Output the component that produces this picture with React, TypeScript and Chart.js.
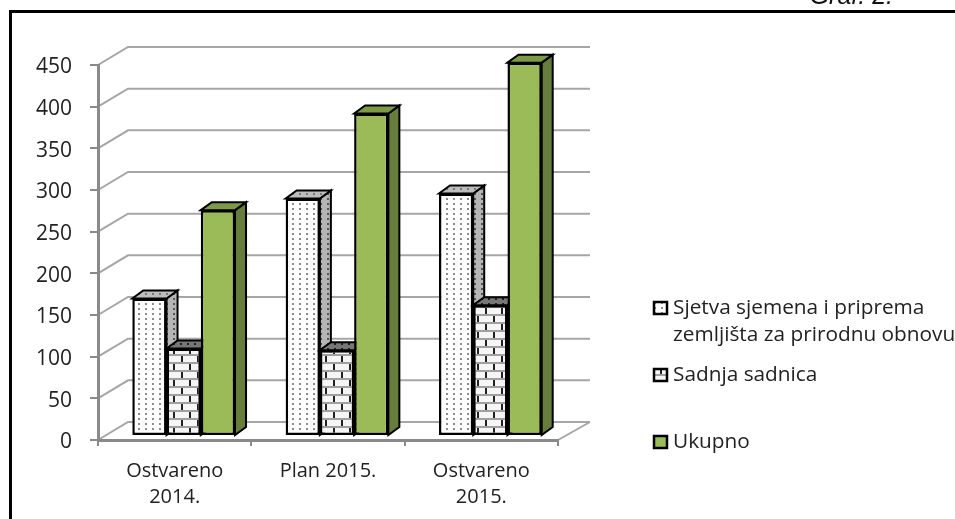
import { useEffect, useRef } from "react";
import { Chart, registerables } from "chart.js";

Chart.register(...registerables);

const categories = [["Ostvareno", "2014."], ["Plan 2015."], ["Ostvareno", "2015."]];
const sjetva = [165, 285, 291];
const sadnja = [105, 103, 157];
const ukupno = [271, 387, 448];
const legendLines = [["Sjetva sjemena i priprema", "zemljišta za prirodnu obnovu"], ["Sadnja sadnica"], ["Ukupno"]];
const note = "Graf. 2.";
const FONT = '"Open Sans"';

function dotPattern(dot: string, bg: string) {
  const c = document.createElement("canvas");
  c.width = 7; c.height = 5;
  const g = c.getContext("2d")!;
  g.fillStyle = bg; g.fillRect(0, 0, 7, 5);
  g.fillStyle = dot; g.fillRect(3, 2, 2, 2);
  return g.createPattern(c, "repeat")!;
}
function brickPattern(line: string, tick: string, bg: string) {
  const c = document.createElement("canvas");
  c.width = 16; c.height = 16;
  const g = c.getContext("2d")!;
  g.fillStyle = bg; g.fillRect(0, 0, 16, 16);
  g.fillStyle = line;
  g.fillRect(0, 6, 16, 2); g.fillRect(0, 14, 16, 2);
  g.fillStyle = tick;
  g.fillRect(4, 0, 2, 6); g.fillRect(12, 8, 2, 6);
  return g.createPattern(c, "repeat")!;
}

const DX = 11, DY = 8, WALL_X = 30, WALL_Y = 18;

const scene = {
  id: "scene",
  beforeDraw(chart: any) {
    const { ctx, scales: { x, y } } = chart;
    y.getLabelItems().forEach((it: any) => {
      if (!it.shifted) { it.options.translation[1] += 2.5; it.shifted = true; }
    });
    ctx.save();
    ctx.fillStyle = "#fff";
    ctx.fillRect(0, 0, chart.width, chart.height);
    ctx.fillStyle = "#000";
    ctx.fillRect(9, 10, 946, 3);
    ctx.fillRect(9, 10, 3, 509);
    ctx.fillStyle = "#111";
    ctx.font = 'italic 25px "Liberation Sans"';
    ctx.textAlign = "right";
    ctx.textBaseline = "alphabetic";
    ctx.fillText(note, 893, 4);
    ctx.strokeStyle = "#a6a6a6";
    ctx.lineWidth = 2;
    y.ticks.forEach((_: any, i: number) => {
      const p = y.getPixelForTick(i);
      ctx.beginPath();
      ctx.moveTo(x.left, p);
      ctx.lineTo(x.left + WALL_X, p - WALL_Y);
      ctx.lineTo(x.right + WALL_X + 2, p - WALL_Y);
      ctx.stroke();
    });
    ctx.beginPath();
    ctx.moveTo(x.right, y.bottom);
    ctx.lineTo(x.right + WALL_X + 2, y.bottom - WALL_Y);
    ctx.stroke();
    ctx.restore();
  },
  beforeDatasetDraw() {
    return false;
  },
  afterDatasetsDraw(chart: any) {
    const { ctx } = chart;
    ctx.save();
    ctx.translate(9, -4);
    chart.data.datasets.forEach((ds: any, i: number) => {
      const meta = chart.getDatasetMeta(i);
      meta.data.forEach((b: any) => {
        const r = b.x + b.width / 2, l = b.x - b.width / 2, t = b.y, bt = b.base;
        ctx.strokeStyle = "#000";
        ctx.lineWidth = 2;
        ctx.fillStyle = ds.sideFill;
        ctx.beginPath();
        ctx.moveTo(r, t); ctx.lineTo(r + DX, t - DY); ctx.lineTo(r + DX, bt - DY); ctx.lineTo(r, bt);
        ctx.closePath(); ctx.fill(); ctx.stroke();
        ctx.fillStyle = ds.topFill;
        ctx.beginPath();
        ctx.moveTo(l, t); ctx.lineTo(l + DX, t - DY); ctx.lineTo(r + DX, t - DY); ctx.lineTo(r, t);
        ctx.closePath(); ctx.fill(); ctx.stroke();
      });
      meta.controller.draw();
    });
    ctx.restore();
  },
  afterDraw(chart: any) {
    const { ctx } = chart;
    const rows = [[308, 308, 335], [375, 375], [442, 442]];
    ctx.save();
    ctx.textBaseline = "middle";
    ctx.textAlign = "left";
    legendLines.forEach((lines, i) => {
      const [my, ...ys] = rows[i];
      const ds: any = chart.data.datasets[i];
      ctx.fillStyle = ds.backgroundColor;
      ctx.fillRect(654, my - 6, 13, 12);
      ctx.strokeStyle = "#000";
      ctx.lineWidth = 2.5;
      ctx.strokeRect(654, my - 6, 13, 12);
      ctx.fillStyle = "#222";
      ctx.font = `20.8px ${FONT}`;
      lines.forEach((s, j) => ctx.fillText(s, 673, ys[j]));
    });
    ctx.restore();
  },
};

export default function App() {
  const ref = useRef<HTMLCanvasElement>(null);
  useEffect(() => {
    const chart = new Chart(ref.current!, {
      type: "bar",
      plugins: [scene],
      data: {
        labels: categories as any,
        datasets: [
          { label: legendLines[0].join(" "), data: sjetva, backgroundColor: dotPattern("#8c8c8c", "#ffffff"), sideFill: dotPattern("#555", "#b5b5b5"), topFill: dotPattern("#777", "#bdbdbd") },
          { label: legendLines[1][0], data: sadnja, backgroundColor: brickPattern("#a0a0a0", "#222", "#f5f5f5"), sideFill: dotPattern("#222", "#888"), topFill: dotPattern("#222", "#777") },
          { label: legendLines[2][0], data: ukupno, backgroundColor: "#9bbb59", sideFill: "#677d3b", topFill: "#7d9a46" },
        ] as any,
      },
      options: {
        responsive: false,
        animation: false,
        layout: { padding: { top: 65, right: 397, left: 0, bottom: 0 } },
        datasets: { bar: { barPercentage: 1, categoryPercentage: 0.67, borderColor: "#000", borderWidth: 2.5, borderSkipped: false } } as any,
        plugins: { legend: { display: false }, title: { display: false }, tooltip: { enabled: false } },
        scales: {
          x: {
            afterFit: (s: any) => { s.height = 79; },
            grid: { drawOnChartArea: false, tickLength: 6, color: "#8a8a8a", lineWidth: 2 },
            border: { color: "#8a8a8a", width: 3 },
            ticks: { color: "#222", padding: 12, maxRotation: 0, font: { family: FONT, size: 20, lineHeight: 1.3 } },
          },
          y: {
            min: 0, max: 450,
            afterFit: (s: any) => { s.width = 98; },
            grid: { drawOnChartArea: false, tickLength: 8, color: "#8a8a8a", lineWidth: 2 },
            border: { color: "#8a8a8a", width: 3 },
            ticks: { stepSize: 50, color: "#222", padding: 18, font: { family: FONT, size: 21 } },
          },
        },
      },
    });
    return () => chart.destroy();
  }, []);
  return <canvas ref={ref} width={955} height={519} style={{ position: "absolute", left: 0, top: 0, width: 955, height: 519 }} />;
}
